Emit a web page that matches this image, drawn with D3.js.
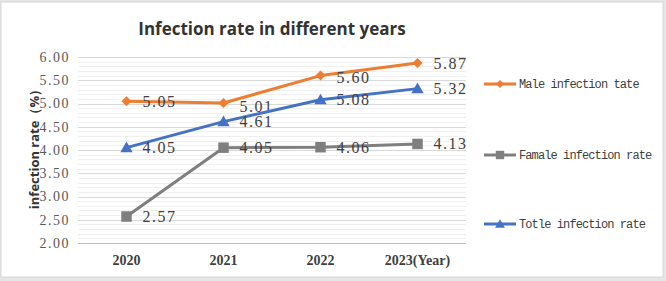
<!DOCTYPE html>
<html><head><meta charset="utf-8">
<script src="https://cdn.jsdelivr.net/npm/d3@7"></script>
<style>body{margin:0;background:#e6e6e6;}svg{display:block;}</style>
</head><body><svg id="c" width="666" height="281"></svg>
<script>
const years = ["2020", "2021", "2022", "2023"];
const yearLabels = ["2020", "2021", "2022", "2023(Year)"];
const maleRate = [5.05, 5.01, 5.60, 5.87];
const femaleRate = [2.57, 4.05, 4.06, 4.13];
const totalRate = [4.05, 4.61, 5.08, 5.32];
const yTicks = [2.0, 2.5, 3.0, 3.5, 4.0, 4.5, 5.0, 5.5, 6.0];
const seriesNames = ["Male infection tate", "Famale infection rate", "Totle infection rate"];
const seriesColors = ["#ed7d31", "#7f7f7f", "#4472c4"];
const seriesData = [maleRate, femaleRate, totalRate];

const svg = d3.select("#c");
svg.append("rect").attr("x",1).attr("y",2).attr("width",662).attr("height",275)
  .attr("fill","#fff").attr("stroke","#d6d6d6").attr("stroke-width",1);

const x = d3.scaleBand().domain(years).range([78,466]);
const y = d3.scaleLinear().domain([2,6]).range([243,57]);
const cx = i => x(years[i]) + x.bandwidth()/2;

const minor = d3.range(2.1, 6.0, 0.1).filter(v => Math.abs(v*2 - Math.round(v*2)) > 0.01);
svg.append("g").selectAll("line").data(minor).join("line")
  .attr("x1",78).attr("x2",466).attr("y1",d=>Math.round(y(d))+0.5).attr("y2",d=>Math.round(y(d))+0.5)
  .attr("stroke","#f0f0f0").attr("stroke-width",1);
svg.append("g").selectAll("line").data(yTicks.slice(1)).join("line")
  .attr("x1",78).attr("x2",466).attr("y1",d=>Math.round(y(d))+0.5).attr("y2",d=>Math.round(y(d))+0.5)
  .attr("stroke","#d9d9d9").attr("stroke-width",1);
svg.append("line").attr("x1",78).attr("x2",466).attr("y1",Math.round(y(2))+0.5).attr("y2",Math.round(y(2))+0.5)
  .attr("stroke","#bfbfbf").attr("stroke-width",1);

const yAxis = d3.axisLeft(y).tickValues(yTicks).tickSize(0).tickPadding(8).tickFormat(d=>d3.format(".2f")(d));
const ya = svg.append("g").attr("transform","translate(78,0)").call(yAxis);
ya.select(".domain").remove();
ya.selectAll("text").attr("font-family","Liberation Serif, serif").attr("font-size",14)
  .attr("letter-spacing","1.5px").attr("fill","#595959");

const xAxis = d3.axisBottom(x).tickSize(0).tickPadding(12).tickFormat((d,i)=>yearLabels[i]);
const xa = svg.append("g").attr("transform","translate(0,243)").call(xAxis);
xa.select(".domain").remove();
xa.selectAll("text").attr("font-family","Liberation Serif, serif").attr("font-size",14)
  .attr("font-weight","bold").attr("fill","#404040");

svg.append("text").attr("x",272).attr("y",35).attr("text-anchor","middle")
  .attr("font-family","Open Sans, sans-serif").attr("font-weight","bold").attr("font-size",17)
  .attr("fill","#333333").text("Infection rate in different years");

svg.append("text").attr("transform","translate(39,146) rotate(-90)").attr("text-anchor","middle")
  .attr("font-family","Open Sans, sans-serif").attr("font-weight","bold").attr("font-size",13)
  .attr("fill","#333333").text("infection rate（%）");

const line = d3.line().x((d,i)=>cx(i)).y(d=>y(d));

function marker(sel, s, scale) {
  if (s === 0) {
    sel.attr("d", d3.symbol().type(d3.symbolSquare).size(50*scale*scale)());
  } else if (s === 1) {
    sel.attr("d", d3.symbol().type(d3.symbolSquare).size(110*scale*scale)());
  } else {
    sel.attr("d", d3.symbol().type(d3.symbolTriangle).size(66*scale*scale)());
  }
}

seriesData.forEach((data, s) => {
  svg.append("path").datum(data).attr("d", line).attr("fill","none")
    .attr("stroke", seriesColors[s]).attr("stroke-width",3).attr("stroke-linejoin","round");
  svg.append("g").selectAll("path").data(data).join("path")
    .attr("transform",(d,i)=>`translate(${cx(i)},${y(d) + (s===2?1:0)}) rotate(${s===0?45:0})`)
    .call(sel => marker(sel, s, 1))
    .attr("fill", seriesColors[s]);
  svg.append("g").selectAll("text").data(data).join("text")
    .attr("x",(d,i)=>cx(i)+16)
    .attr("y",(d,i)=>y(d) + 5.5 + (s===0 && i===1 ? 3 : 0) + (s===0 && i===2 ? 1.5 : 0))
    .attr("font-family","Liberation Serif, serif").attr("font-size",16).attr("letter-spacing","1.5px")
    .attr("fill","#404040").text(d=>d3.format(".2f")(d));
});

const legY = [84, 155, 224];
seriesNames.forEach((n, s) => {
  const g = svg.append("g");
  g.append("line").attr("x1",484).attr("x2",516).attr("y1",legY[s]).attr("y2",legY[s])
    .attr("stroke",seriesColors[s]).attr("stroke-width",3);
  g.append("path").attr("transform",`translate(500,${legY[s] + (s===2?1:0)}) rotate(${s===0?45:0})`)
    .call(sel => marker(sel, s, 0.8)).attr("fill",seriesColors[s]);
  g.append("text").attr("x",519).attr("y",legY[s]+4).attr("font-family","Liberation Mono, monospace")
    .attr("font-size",12).attr("letter-spacing","-0.9px").attr("fill","#404040").text(n);
});
</script></body></html>
